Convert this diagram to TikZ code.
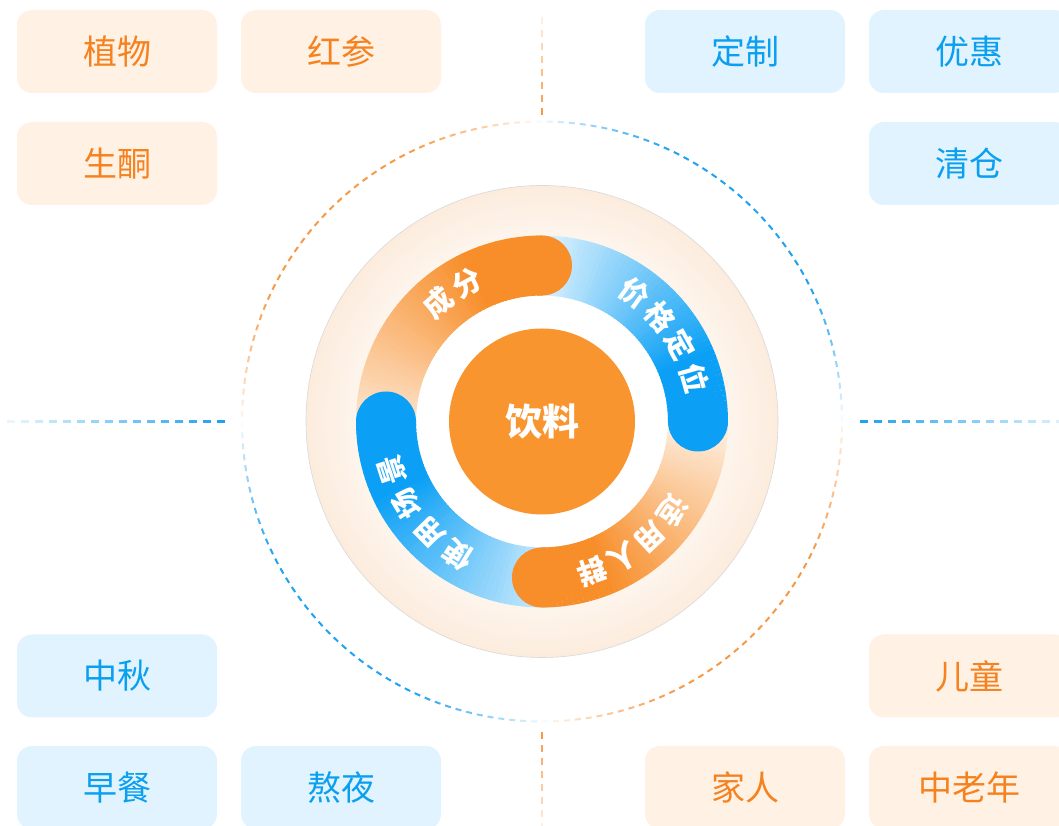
\documentclass[tikz,border=0pt]{standalone}
\usepackage{fontspec}
\newfontfamily\cjk{Noto Sans CJK SC}
\definecolor{otext}{HTML}{F5821F}
\definecolor{obox}{HTML}{FFF1E4}
\definecolor{btext}{HTML}{0A9FEF}
\definecolor{bbox}{HTML}{E1F3FE}
\definecolor{oband}{HTML}{F78E2A}
\definecolor{bband}{HTML}{0BA0F5}
\definecolor{odisc}{HTML}{F9952F}
\definecolor{peach}{HTML}{FCECDD}
\definecolor{odash}{HTML}{F79A48}
\definecolor{bdash}{HTML}{1FA2EF}
\pgfdeclareradialshading{paleshade}{\pgfpoint{0bp}{0bp}}{color(0bp)=(white); color(13.5bp)=(white); color(25bp)=(peach); color(50bp)=(peach)}
\tikzset{
  otag/.style={rounded corners=15pt, fill=obox, text=otext, minimum width=200pt, minimum height=83pt, font=\cjk\fontsize{34}{40}\selectfont, inner sep=0pt},
  btag/.style={otag, fill=bbox, text=btext},
  bandtxt/.style={text=white, font=\cjk\bfseries\fontsize{29}{32}\selectfont, inner sep=0pt},
  dashseg/.style={line width=2pt},
  lineseg/.style={line width=2.6pt},
}
\newcommand\bandpart[6]{%
  \foreach \k in {#4,...,#5}{%
    \pgfmathsetmacro\sa{#1+(#2-#1)*\k/#6}%
    \pgfmathsetmacro\ea{#1+(#2-#1)*(\k+1.2)/#6}%
    \pgfmathtruncatemacro\pp{min(100,130*(\k+0.5)/#6)}%
    \draw[line width=60pt, #3!\pp!white] (C) ++(\sa:156) arc[start angle=\sa, end angle=\ea, radius=156];
  }}
\begin{document}
\begin{tikzpicture}[x=1pt,y=1pt]
\useasboundingbox (0,0) rectangle (1059,826);
\fill[white] (0,0) rectangle (1059,826);
\coordinate (C) at (542,404.5);

% straight dashed lines
\foreach \j in {0,...,7}{%
  \pgfmathtruncatemacro\pp{100-12*\j}%
  \draw[lineseg, odash!\pp!white] (542,711+13*\j) -- (542,718+13*\j);
  \draw[lineseg, odash!\pp!white] (542,94-13*\j) -- (542,87-13*\j);
}
\foreach \j in {0,...,15}{%
  \pgfmathtruncatemacro\pp{100-6*\j}%
  \draw[lineseg, bdash!\pp!white] (225-14*\j,404.5) -- (217-14*\j,404.5);
  \draw[lineseg, bdash!\pp!white] (860+14*\j,404.5) -- (868+14*\j,404.5);
}

% dashed circle
\foreach \i in {0,...,171}{%
  \pgfmathsetmacro\a{\i*2.0930233}%
  \pgfmathsetmacro\ph{mod(\a,90)}%
  \pgfmathtruncatemacro\pp{min(100,5+120*sin(2*\ph))}%
  \pgfmathtruncatemacro\q{int(\a/90)}%
  \ifodd\q\def\cc{odash}\else\def\cc{bdash}\fi
  \draw[dashseg, \cc!\pp!white] (C) ++(\a:300) arc[start angle=\a, end angle=\a+1.15, radius=300];
}

% pale disc
\shade[shading=paleshade] (C) circle (236);
\draw[gray!30, line width=0.6pt] (C) circle (236);

% bands: pale halves first
\bandpart{200}{90}{oband}{0}{29}{60}
\bandpart{100}{0}{bband}{0}{29}{60}
\bandpart{10}{-90}{oband}{0}{29}{60}
\bandpart{290}{180}{bband}{0}{29}{60}
\bandpart{200}{90}{oband}{30}{59}{60}
\bandpart{100}{0}{bband}{30}{59}{60}
\bandpart{10}{-90}{oband}{30}{59}{60}
\bandpart{290}{180}{bband}{30}{59}{60}
\fill[oband] (C) ++(90:156) circle (30);
\fill[bband] (C) ++(0:156) circle (30);
\fill[oband] (C) ++(-90:156) circle (30);
\fill[bband] (C) ++(180:156) circle (30);

% center
\node[circle, fill=odisc, minimum size=186pt, inner sep=0pt, text=white, font=\cjk\bfseries\fontsize{37}{42}\selectfont] (drink) at (C) {饮料};

% band labels
\node[bandtxt, rotate=41] (c1) at ([shift={(131:158)}]C) {成};
\node[bandtxt, rotate=28.5] (c2) at ([shift={(118.5:158)}]C) {分};
\node[bandtxt, rotate=-36] (p1) at ([shift={(54:158)}]C) {价};
\node[bandtxt, rotate=-48.5] (p2) at ([shift={(41.5:158)}]C) {格};
\node[bandtxt, rotate=-61] (p3) at ([shift={(29:158)}]C) {定};
\node[bandtxt, rotate=-74] (p4) at ([shift={(16:158)}]C) {位};
\node[bandtxt, rotate=-124.5] (r1) at ([shift={(-34.5:158)}]C) {适};
\node[bandtxt, rotate=-136.8] (r2) at ([shift={(-46.8:158)}]C) {用};
\node[bandtxt, rotate=-149.1] (r3) at ([shift={(-59.1:158)}]C) {人};
\node[bandtxt, rotate=-161.4] (r4) at ([shift={(-71.4:158)}]C) {群};
\node[bandtxt, rotate=148] (s1) at ([shift={(238:158)}]C) {使};
\node[bandtxt, rotate=134.7] (s2) at ([shift={(224.7:158)}]C) {用};
\node[bandtxt, rotate=121.3] (s3) at ([shift={(211.3:158)}]C) {场};
\node[bandtxt, rotate=108] (s4) at ([shift={(198:158)}]C) {景};

% tag boxes
\node[otag] (zw) at (117,774.5) {植物};
\node[otag] (hs) at (341,774.5) {红参};
\node[otag] (st) at (117,662.5) {生酮};
\node[btag] (dz) at (745,774.5) {定制};
\node[btag] (yh) at (969,774.5) {优惠};
\node[btag] (qc) at (969,662.5) {清仓};
\node[btag] (zq) at (117,150) {中秋};
\node[btag] (zc) at (117,38.5) {早餐};
\node[btag] (ay) at (341,38.5) {熬夜};
\node[otag] (et) at (969,150) {儿童};
\node[otag] (jr) at (745,38.5) {家人};
\node[otag] (zln) at (969,38.5) {中老年};
\end{tikzpicture}
\end{document}
